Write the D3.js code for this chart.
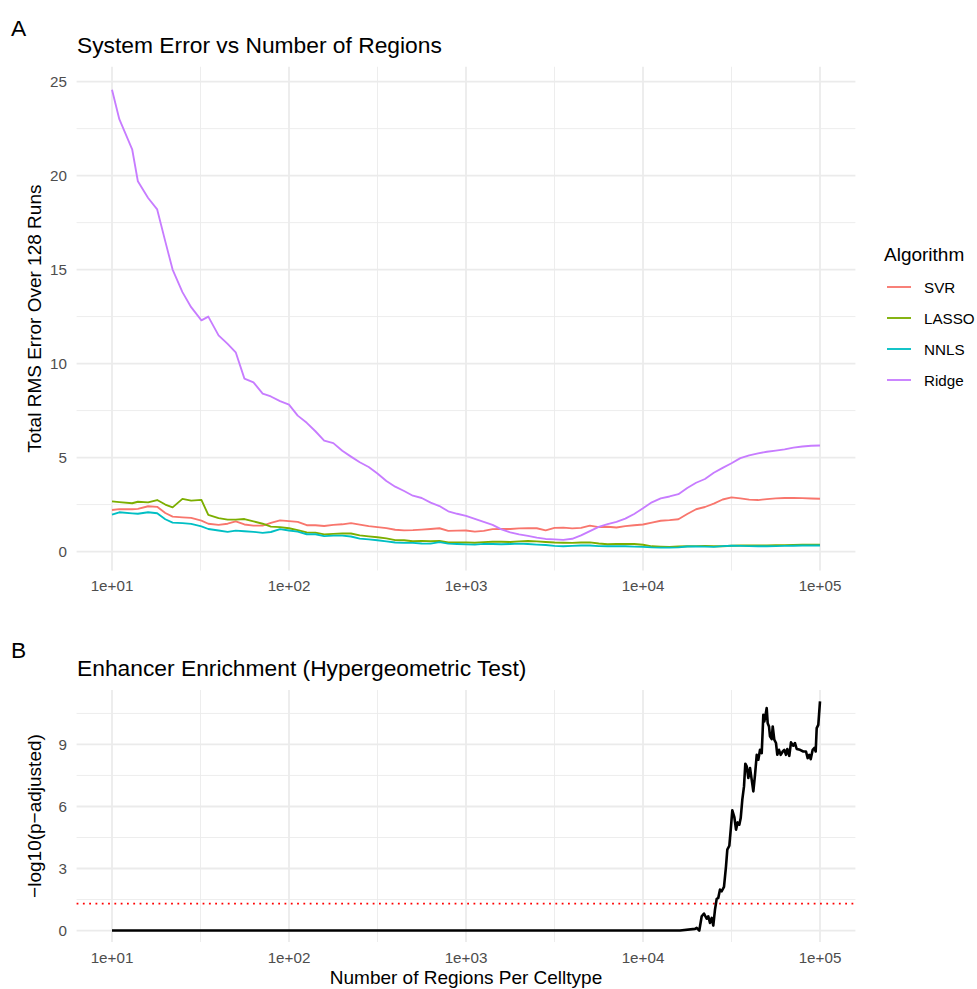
<!DOCTYPE html>
<html>
<head>
<meta charset="utf-8">
<script src="https://cdn.jsdelivr.net/npm/d3@7"></script>
<style>
  body { margin: 0; background: #fff; }
  text { font-family: "Liberation Sans", Arial, Helvetica, sans-serif; }
  .grid_major { stroke: #EBEBEB; stroke-width: 1.8; fill: none; }
  .grid_minor { stroke: #EBEBEB; stroke-width: 0.9; fill: none; }
  .tick_label { fill: #4D4D4D; font-size: 15.2px; }
  .axis_title { fill: #000; font-size: 19px; }
  .plot_title { fill: #000; font-size: 22.8px; }
  .tag { fill: #000; font-size: 22.8px; }
  .legend_text { fill: #000; font-size: 15.2px; }
</style>
</head>
<body>
<div id="chart"></div>
<script>
// Panel A: regions per celltype (log steps of 0.05)
var regions = [10, 11, 13, 14, 16, 18, 20, 22, 25, 28, 32, 35, 40, 45, 50, 56, 63, 71, 79, 89,
  100, 112, 126, 141, 158, 178, 200, 224, 251, 282, 316, 355, 398, 447, 501, 562, 631, 708, 794, 891,
  1000, 1122, 1259, 1413, 1585, 1778, 1995, 2239, 2512, 2818, 3162, 3548, 3981, 4467, 5012, 5623, 6310, 7079, 7943, 8913,
  10000, 11220, 12589, 14125, 15849, 17783, 19953, 22387, 25119, 28184, 31623, 35481, 39811, 44668, 50119, 56234, 63096, 70795, 79433, 89125,
  100000];

var svrError = [2.21, 2.26, 2.25, 2.27, 2.41, 2.38, 2.05, 1.86, 1.82, 1.79, 1.65, 1.48, 1.42, 1.48, 1.60, 1.44, 1.38, 1.38, 1.52, 1.66,
  1.62, 1.58, 1.40, 1.40, 1.36, 1.42, 1.45, 1.51, 1.43, 1.35, 1.30, 1.25, 1.16, 1.13, 1.14, 1.17, 1.20, 1.24, 1.10, 1.11,
  1.12, 1.06, 1.10, 1.19, 1.20, 1.20, 1.23, 1.24, 1.24, 1.13, 1.26, 1.27, 1.23, 1.26, 1.38, 1.30, 1.32, 1.28, 1.35, 1.40,
  1.44, 1.54, 1.64, 1.67, 1.72, 2.00, 2.25, 2.37, 2.55, 2.77, 2.88, 2.83, 2.76, 2.74, 2.79, 2.83, 2.85, 2.85, 2.84, 2.82,
  2.81];

var lassoError = [2.67, 2.63, 2.57, 2.65, 2.62, 2.74, 2.50, 2.35, 2.80, 2.71, 2.75, 1.95, 1.78, 1.70, 1.70, 1.73, 1.61, 1.48, 1.33, 1.30,
  1.24, 1.14, 1.02, 1.01, 0.91, 0.94, 0.96, 0.96, 0.86, 0.81, 0.76, 0.70, 0.61, 0.60, 0.55, 0.57, 0.55, 0.57, 0.48, 0.48,
  0.49, 0.47, 0.50, 0.52, 0.52, 0.51, 0.54, 0.56, 0.54, 0.51, 0.48, 0.47, 0.46, 0.48, 0.49, 0.43, 0.39, 0.40, 0.41, 0.40,
  0.36, 0.28, 0.26, 0.25, 0.27, 0.28, 0.29, 0.30, 0.28, 0.28, 0.31, 0.32, 0.32, 0.33, 0.33, 0.34, 0.34, 0.35, 0.36, 0.36,
  0.37];

var nnlsError = [1.96, 2.09, 2.03, 2.01, 2.09, 2.04, 1.72, 1.54, 1.51, 1.47, 1.34, 1.20, 1.12, 1.05, 1.11, 1.08, 1.05, 0.99, 1.04, 1.19,
  1.12, 1.06, 0.92, 0.92, 0.82, 0.85, 0.85, 0.80, 0.69, 0.65, 0.60, 0.54, 0.48, 0.46, 0.46, 0.43, 0.42, 0.50, 0.42, 0.40,
  0.38, 0.37, 0.41, 0.40, 0.39, 0.40, 0.42, 0.40, 0.37, 0.35, 0.30, 0.28, 0.30, 0.32, 0.32, 0.29, 0.28, 0.28, 0.28, 0.26,
  0.25, 0.22, 0.21, 0.21, 0.22, 0.27, 0.27, 0.26, 0.25, 0.29, 0.31, 0.30, 0.29, 0.28, 0.28, 0.29, 0.30, 0.31, 0.32, 0.32,
  0.32];

var ridgeError = [24.57, 23.0, 21.4, 19.7, 18.81, 18.2, 16.5, 15.0, 13.8, 13.0, 12.3, 12.5, 11.5, 11.05, 10.6, 9.2, 9.0, 8.4, 8.25, 8.0,
  7.82, 7.23, 6.85, 6.4, 5.9, 5.77, 5.36, 5.05, 4.75, 4.5, 4.15, 3.75, 3.45, 3.22, 2.97, 2.85, 2.6, 2.42, 2.14, 2.01,
  1.9, 1.74, 1.58, 1.42, 1.18, 1.02, 0.91, 0.83, 0.74, 0.67, 0.65, 0.62, 0.68, 0.86, 1.09, 1.31, 1.46, 1.58, 1.75, 2.0,
  2.3, 2.62, 2.83, 2.93, 3.05, 3.38, 3.66, 3.86, 4.19, 4.45, 4.7, 4.97, 5.12, 5.22, 5.31, 5.37, 5.44, 5.53, 5.59, 5.63,
  5.64];

var algorithms = ['SVR', 'LASSO', 'NNLS', 'Ridge'];
var algoColors = ['#F8766D', '#7CAE00', '#00BFC4', '#C77CFF'];

// Panel B: enrichment
var enrichRegions = [10, 16190, 19670, 20110, 20800, 21460, 22110, 22900, 23380, 23900,
  24440, 24950, 25510, 26080, 26630, 27230, 27840, 28680, 29440, 29950,
  30740, 31310, 31960, 32810, 33540, 34280, 35010, 35650, 36400, 37210,
  37850, 38550, 39360, 40240, 41140, 42010, 42950, 43910, 44830, 45830,
  46850, 47470, 47840, 48460, 49090, 49990, 50640, 51510, 52180, 53350,
  54060, 55170, 56410, 57380, 58670, 59980, 61560, 62850, 64250, 65350,
  67070, 68570, 70650, 72230, 73850, 77090, 80460, 83340, 85200, 86990,
  88600, 90930, 92840, 94550, 95800, 97820, 100000];
var enrichScore = [0, 0, 0.08, 0.13, 0, 0.69, 0.82, 0.57, 0.69, 0.37,
  0.61, 0.24, 1.01, 1.53, 1.58, 1.98, 1.9, 2.11, 3.1, 3.91,
  4.1, 4.88, 5.81, 5.49, 4.88, 5.23, 5.12, 5.44, 6.33, 6.97,
  8.07, 7.94, 7.38, 7.86, 7.29, 6.73, 7.54, 8.5, 8.26, 8.74,
  8.58, 9.71, 10.43, 10.11, 10.35, 10.76, 10.03, 9.87, 9.39, 9.26,
  9.87, 9.23, 9.07, 8.5, 8.74, 8.5, 8.66, 8.74, 8.5, 8.78,
  8.45, 9.1, 8.94, 9.07, 8.78, 8.74, 8.66, 8.66, 8.34, 8.5,
  8.29, 8.74, 8.83, 8.66, 9.79, 9.95, 11.08];
var threshold = 1.30103; // -log10(0.05)

var xTicks = [10, 100, 1000, 10000, 100000];
var xTickLabels = ['1e+01', '1e+02', '1e+03', '1e+04', '1e+05'];
var xMinor = [31.62, 316.2, 3162, 31623];
var yTicksA = [0, 5, 10, 15, 20, 25];
var yMinorA = [2.5, 7.5, 12.5, 17.5, 22.5];
var yTicksB = [0, 3, 6, 9];
var yMinorB = [1.5, 4.5, 7.5, 10.5];

var width = 977, height = 989;
var panelLeft = 76.6, panelRight = 855.4;

var svg = d3.select('#chart').append('svg')
  .attr('width', width)
  .attr('height', height);

// ggplot-like 5% expansion
function expand(ext) {
  var pad = (ext[1] - ext[0]) * 0.05;
  return [ext[0] - pad, ext[1] + pad];
}

var x = d3.scaleLog()
  .domain([Math.pow(10, 0.8), Math.pow(10, 5.2)])
  .range([panelLeft, panelRight]);

var seriesA = [svrError, lassoError, nnlsError, ridgeError];
var yA = d3.scaleLinear()
  .domain(expand(d3.extent(d3.merge(seriesA))))
  .range([570.5, 66.8]);

var yB = d3.scaleLinear()
  .domain(expand(d3.extent(enrichScore)))
  .range([942, 690]);

function drawGrid(g, y, top, bottom, yMajor, yMinor) {
  g.selectAll('.hminor').data(yMinor).enter().append('line')
    .attr('class', 'grid_minor')
    .attr('x1', panelLeft).attr('x2', panelRight)
    .attr('y1', function (d) { return y(d); })
    .attr('y2', function (d) { return y(d); });
  g.selectAll('.vminor').data(xMinor).enter().append('line')
    .attr('class', 'grid_minor')
    .attr('y1', top).attr('y2', bottom)
    .attr('x1', function (d) { return x(d); })
    .attr('x2', function (d) { return x(d); });
  g.selectAll('.hmajor').data(yMajor).enter().append('line')
    .attr('class', 'grid_major')
    .attr('x1', panelLeft).attr('x2', panelRight)
    .attr('y1', function (d) { return y(d); })
    .attr('y2', function (d) { return y(d); });
  g.selectAll('.vmajor').data(xTicks).enter().append('line')
    .attr('class', 'grid_major')
    .attr('y1', top).attr('y2', bottom)
    .attr('x1', function (d) { return x(d); })
    .attr('x2', function (d) { return x(d); });

  // tick labels
  g.selectAll('.ylab').data(yMajor).enter().append('text')
    .attr('class', 'tick_label')
    .attr('x', 67)
    .attr('y', function (d) { return y(d) + 5.4; })
    .attr('text-anchor', 'end')
    .text(function (d) { return d; });
  g.selectAll('.xlab').data(xTicks).enter().append('text')
    .attr('class', 'tick_label')
    .attr('x', function (d) { return x(d); })
    .attr('y', bottom + 20.7)
    .attr('text-anchor', 'middle')
    .text(function (d, i) { return xTickLabels[i]; });
}

// ---- Panel A ----
var gA = svg.append('g');
drawGrid(gA, yA, 66.8, 570.5, yTicksA, yMinorA);

var lineA = d3.line()
  .x(function (d, i) { return x(regions[i]); })
  .y(function (d) { return yA(d); });

gA.selectAll('.algo_line').data(seriesA).enter().append('path')
  .attr('class', 'algo_line')
  .attr('d', lineA)
  .attr('fill', 'none')
  .attr('stroke', function (d, i) { return algoColors[i]; })
  .attr('stroke-width', 1.85)
  .attr('stroke-linejoin', 'round');

svg.append('text').attr('class', 'tag').attr('x', 11).attr('y', 36).text('A');
svg.append('text').attr('class', 'plot_title').attr('x', 77).attr('y', 53)
  .text('System Error vs Number of Regions');
svg.append('text').attr('class', 'axis_title')
  .attr('transform', 'translate(41,' + (66.8 + 570.5) / 2 + ') rotate(-90)')
  .attr('text-anchor', 'middle')
  .text('Total RMS Error Over 128 Runs');

// legend
var legend = svg.append('g');
legend.append('text').attr('class', 'axis_title').attr('x', 884).attr('y', 261).text('Algorithm');
var items = legend.selectAll('.legend_item').data(algorithms).enter().append('g')
  .attr('transform', function (d, i) { return 'translate(0,' + (287 + i * 31) + ')'; });
items.append('line')
  .attr('x1', 887).attr('x2', 911)
  .attr('stroke', function (d, i) { return algoColors[i]; })
  .attr('stroke-width', 1.85);
items.append('text').attr('class', 'legend_text')
  .attr('x', 924).attr('y', 5.5)
  .text(function (d) { return d; });

// ---- Panel B ----
var gB = svg.append('g');
drawGrid(gB, yB, 690, 942, yTicksB, yMinorB);

gB.append('line')
  .attr('x1', panelLeft).attr('x2', panelRight)
  .attr('y1', yB(threshold)).attr('y2', yB(threshold))
  .attr('stroke', 'red')
  .attr('stroke-width', 1.8)
  .attr('stroke-dasharray', '1.8 4.5');

var lineB = d3.line()
  .x(function (d, i) { return x(enrichRegions[i]); })
  .y(function (d) { return yB(d); });

gB.append('path')
  .datum(enrichScore)
  .attr('d', lineB)
  .attr('fill', 'none')
  .attr('stroke', '#000')
  .attr('stroke-width', 2.6)
  .attr('stroke-linejoin', 'round');

svg.append('text').attr('class', 'tag').attr('x', 11).attr('y', 658).text('B');
svg.append('text').attr('class', 'plot_title').attr('x', 77).attr('y', 676)
  .text('Enhancer Enrichment (Hypergeometric Test)');
svg.append('text').attr('class', 'axis_title')
  .attr('transform', 'translate(41,' + (690 + 942) / 2 + ') rotate(-90)')
  .attr('text-anchor', 'middle')
  .text('\u2212log10(p\u2212adjusted)');
svg.append('text').attr('class', 'axis_title')
  .attr('x', (panelLeft + panelRight) / 2).attr('y', 984)
  .attr('text-anchor', 'middle')
  .text('Number of Regions Per Celltype');
</script>
</body>
</html>
